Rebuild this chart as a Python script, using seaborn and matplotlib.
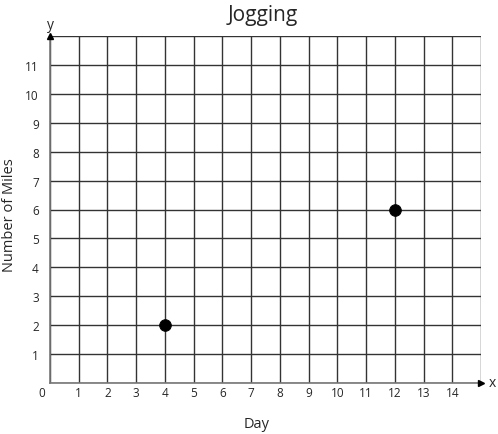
import matplotlib
matplotlib.use("Agg")
import matplotlib.pyplot as plt
import seaborn as sns
import pandas as pd

days = [4, 12]
miles = [2, 6]
x_ticks = list(range(1, 15))
y_ticks = list(range(1, 12))

sns.set_theme(style="white")
plt.rcParams['font.family'] = ['Open Sans', 'DejaVu Sans']

fig = plt.figure(figsize=(4.98, 4.35), dpi=100)
ax = fig.add_axes([50/498, 51/435, 431/498, 347/435])

df = pd.DataFrame({"Day": days, "Miles": miles})

ax.set_xlim(0, 15)
ax.set_ylim(0, 12)
ax.set_xticks(range(0, 16))
ax.set_yticks(range(0, 13))
ax.set_xticklabels([""] + [str(v) for v in x_ticks] + [""], fontsize=8.5)
ax.set_yticklabels([""] + [str(v) for v in y_ticks] + [""], fontsize=8.5)
ax.tick_params(axis="x", length=0, pad=2)
ax.tick_params(axis="y", length=0, pad=8)
ax.grid(True, color="#333333", linewidth=1.0)
ax.set_axisbelow(True)

for s in ["top", "right"]:
    ax.spines[s].set_visible(False)
for s in ["left", "bottom"]:
    ax.spines[s].set_color("#777777")
    ax.spines[s].set_linewidth(1.2)
    ax.spines[s].set_zorder(3)

sns.scatterplot(data=df, x="Day", y="Miles", ax=ax, color="black", s=70,
                edgecolor="black", zorder=5, clip_on=False)

# arrows
ax.plot([15], [0], marker=">", color="black", markersize=4, clip_on=False, zorder=6)
ax.plot([0], [12], marker="^", color="black", markersize=4, clip_on=False, zorder=6)
ax.text(15.4, 0, "x", fontsize=10, ha="center", va="center", clip_on=False)
ax.text(0, 12.4, "y", fontsize=10, ha="center", va="center", clip_on=False)
ax.text(-0.28, -0.32, "0", fontsize=8.5, ha="center", va="center")

ax.set_xlabel("")
ax.set_ylabel("")
fig.text(257/498, 1 - 425/435, "Day", fontsize=10.5, ha="center", va="center")
fig.text(10/498, 1 - 215/435, "Number of Miles", fontsize=10.5, ha="center",
         va="center", rotation=90)
fig.text(263/498, 1 - 15/435, "Jogging", fontsize=15, ha="center", va="center")

fig.savefig("out.png", dpi=100)
